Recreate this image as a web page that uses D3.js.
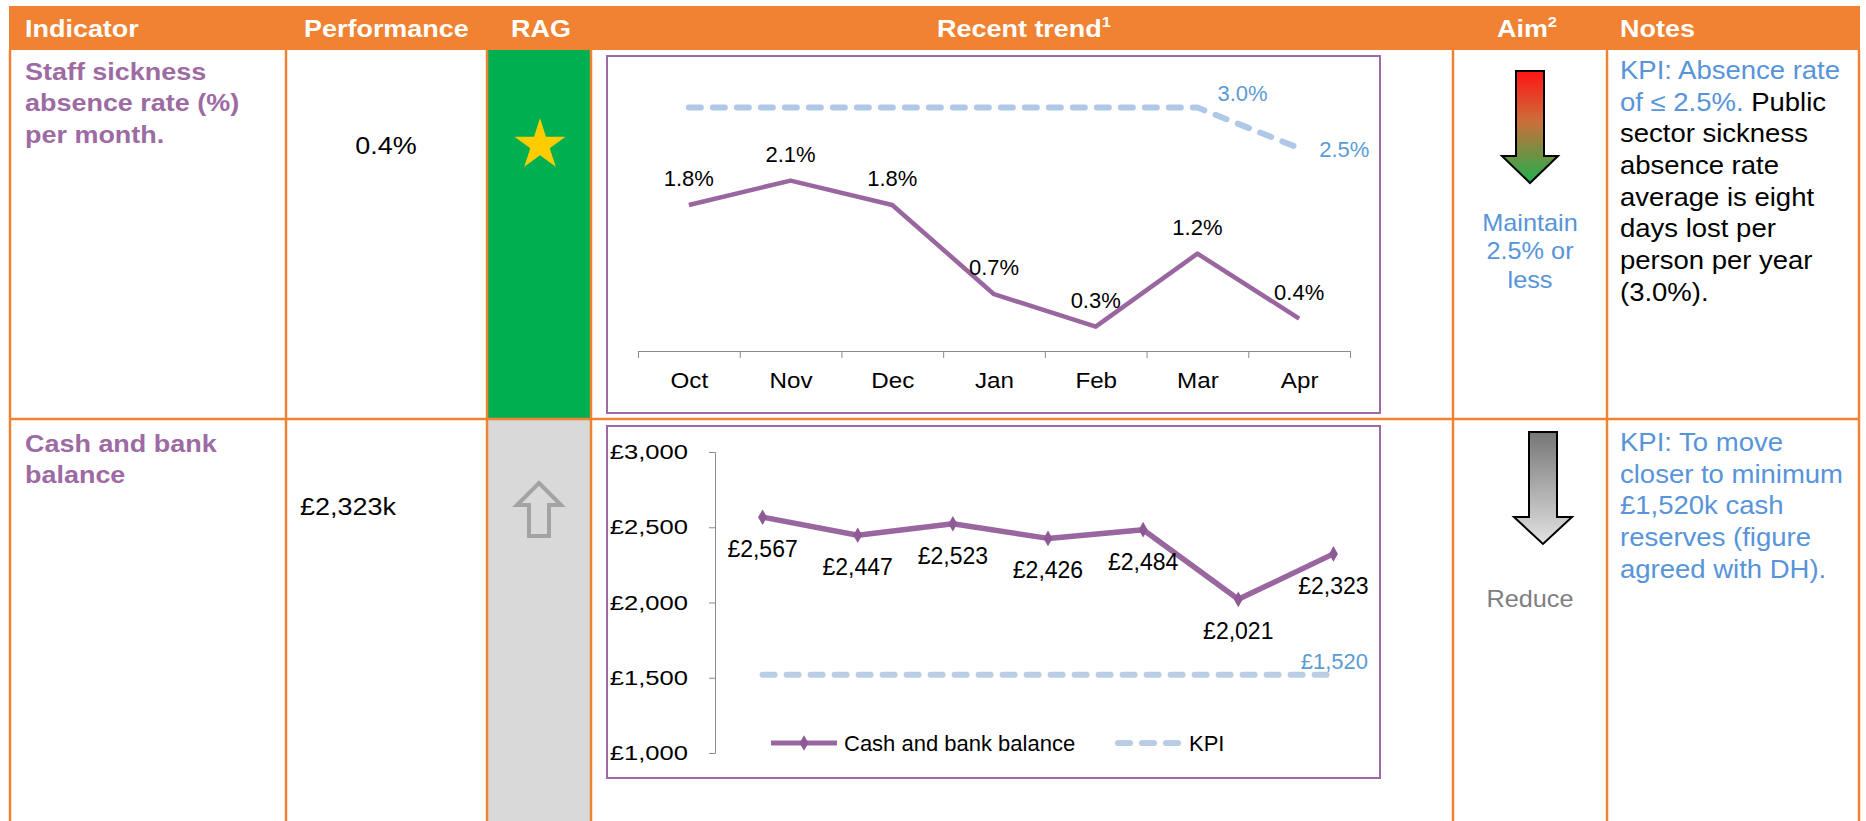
<!DOCTYPE html>
<html>
<head>
<meta charset="utf-8">
<script src="https://cdn.jsdelivr.net/npm/d3@7"></script>
<style>
  html, body { margin: 0; padding: 0; background: #fff; }
  svg { display: block; font-family: "Liberation Sans", Arial, sans-serif; }
</style>
</head>
<body>
<div id="chart"></div>
<script>
// ---- data ----
const months = ['Oct', 'Nov', 'Dec', 'Jan', 'Feb', 'Mar', 'Apr'];
const sicknessRate = [1.8, 2.1, 1.8, 0.7, 0.3, 1.2, 0.4];
const sicknessTarget = [3.0, 3.0, 3.0, 3.0, 3.0, 3.0, 2.5];
const cashBalance = [2567, 2447, 2523, 2426, 2484, 2021, 2323];
const cashKpi = [1520, 1520, 1520, 1520, 1520, 1520, 1520];
const cashTicks = [1000, 1500, 2000, 2500, 3000];

const headers = ['Indicator', 'Performance', 'RAG', 'Recent trend', 'Aim', 'Notes'];
const indicatorLines = [['Staff sickness', 'absence rate (%)', 'per month.'], ['Cash and bank', 'balance']];
const performance = ['0.4%', '£2,323k'];
const aimLines = [['Maintain', '2.5% or', 'less'], ['Reduce']];

const W = 1866, H = 821;
const SX = 1.1; // the source table is stretched horizontally
const ORANGE = '#F08232';
const PURPLE = '#9966A0';
const PURPLE_TEXT = '#9D6AA3';
const BLUE = '#5794DA';
const DASH = '#AFC8E8';

const svg = d3.select('#chart').append('svg')
	.attr('width', W)
	.attr('height', H);

const defs = svg.append('defs');

function gradient(id, stops) {
	const g = defs.append('linearGradient').attr('id', id)
		.attr('x1', 0).attr('y1', 0).attr('x2', 0).attr('y2', 1);
	stops.forEach(([o, c]) => g.append('stop').attr('offset', o).attr('stop-color', c));
}
gradient('aimGood', [[0, '#FF1414'], [0.45, '#CC6E3A'], [1, '#1FB04C']]);
gradient('aimGrey', [[0, '#767676'], [1, '#E2E2E2']]);

/* text block drawn with the horizontal stretch of the source */
function label(g, x, y, lines, opt) {
	const t = g.append('text')
		.attr('transform', `translate(${x},${y}) scale(${opt.sx || SX},1)`)
		.attr('font-size', opt.size)
		.attr('font-weight', opt.bold ? 'bold' : null)
		.attr('text-anchor', opt.anchor || 'start')
		.attr('fill', opt.color || '#000');
	lines.forEach((line, i) => {
		const segs = Array.isArray(line) ? line : [[line]];
		segs.forEach((s, j) => {
			const ts = t.append('tspan').text(s[0]);
			if (j === 0) ts.attr('x', 0).attr('dy', i === 0 ? 0 : opt.lh);
			if (s[1]) ts.attr('fill', s[1]);
		});
	});
	return t;
}

// ---- table frame ----
const colX = [10, 286, 487, 591, 1453, 1607, 1859];
const headTop = 6, headBottom = 50, rowSplit = 419;

svg.append('rect')
	.attr('x', colX[0] - 1).attr('y', headTop)
	.attr('width', colX[6] - colX[0] + 2).attr('height', headBottom - headTop)
	.attr('fill', ORANGE);

svg.append('rect')
	.attr('x', colX[2]).attr('y', headBottom)
	.attr('width', colX[3] - colX[2]).attr('height', rowSplit - headBottom)
	.attr('fill', '#00B050');
svg.append('rect')
	.attr('x', colX[2]).attr('y', rowSplit)
	.attr('width', colX[3] - colX[2]).attr('height', H - rowSplit)
	.attr('fill', '#D9D9D9');

const frame = svg.append('g').attr('stroke', ORANGE).attr('stroke-width', 2.5);
colX.forEach(x => frame.append('line').attr('x1', x).attr('x2', x).attr('y1', headBottom).attr('y2', H));
frame.append('line').attr('x1', colX[0]).attr('x2', colX[6]).attr('y1', rowSplit).attr('y2', rowSplit);

// header
const head = svg.append('g');
const headPos = [[25, 'start'], [304, 'start'], [511, 'start'], [1024, 'middle'], [1527, 'middle'], [1620, 'start']];
headers.forEach((h, i) => {
	const t = label(head, headPos[i][0], 37, [h], {size: 24.5, bold: true, color: '#fff', anchor: headPos[i][1]});
	if (i === 3 || i === 4) {
		t.append('tspan').text(i === 3 ? '1' : '2')
			.attr('font-size', 15).attr('dy', -10);
	}
});

// indicator + performance
label(svg, 25, 80, indicatorLines[0], {size: 24.5, bold: true, color: PURPLE_TEXT, lh: 31.5});
label(svg, 25, 452, indicatorLines[1], {size: 24.5, bold: true, color: PURPLE_TEXT, lh: 31.5});
label(svg, 386, 154, [performance[0]], {size: 24.5, anchor: 'middle'});
label(svg, 300, 515, [performance[1]], {size: 24.5});

// RAG icons
svg.append('path')
	.attr('d', d3.symbol(d3.symbolStar, 806)())
	.attr('transform', 'translate(540,145)')
	.attr('fill', '#FFCC00');

const upX = 539, upTop = 483;
svg.append('path')
	.attr('d', `M${upX},${upTop} L${upX + 22},${upTop + 22} L${upX + 10},${upTop + 22} L${upX + 10},${upTop + 53} L${upX - 10},${upTop + 53} L${upX - 10},${upTop + 22} L${upX - 22},${upTop + 22} Z`)
	.attr('fill', 'none')
	.attr('stroke', '#A3A3A3')
	.attr('stroke-width', 4);

// aim arrows
function downArrow(cx, top, headY, tip, sh, hh, fill) {
	svg.append('path')
		.attr('d', `M${cx - sh},${top} L${cx + sh},${top} L${cx + sh},${headY} L${cx + hh},${headY} L${cx},${tip} L${cx - hh},${headY} L${cx - sh},${headY} Z`)
		.attr('fill', fill)
		.attr('stroke', '#000')
		.attr('stroke-width', 2)
		.attr('stroke-linejoin', 'miter');
}
downArrow(1530, 71, 156, 183, 14, 28, 'url(#aimGood)');
downArrow(1543, 432, 517, 544, 14, 29, 'url(#aimGrey)');

label(svg, 1530, 231, aimLines[0], {size: 23, anchor: 'middle', color: BLUE, lh: 28.5});
label(svg, 1530, 607, aimLines[1], {size: 23, anchor: 'middle', color: '#7F7F7F'});

// notes
label(svg, 1620, 79, [
	[['KPI: Absence rate', BLUE]],
	[['of ≤ 2.5%.', BLUE], [' Public']],
	'sector sickness',
	'absence rate',
	'average is eight',
	'days lost per',
	'person per year',
	'(3.0%).'
], {size: 25, lh: 31.7});
label(svg, 1620, 451, ['KPI: To move', 'closer to minimum', '£1,520k cash', 'reserves (figure', 'agreed with DH).'],
	{size: 25, lh: 31.7, color: BLUE});

// ---- chart 1 : sickness absence ----
const c1 = svg.append('g');
c1.append('rect')
	.attr('x', 607).attr('y', 56).attr('width', 773).attr('height', 357)
	.attr('fill', '#fff').attr('stroke', '#9E6AA5').attr('stroke-width', 2);

const x1 = d3.scalePoint().domain(months).range([638, 1350]).padding(0.5);
const y1 = d3.scaleLinear().domain([0, 3.5]).range([351, 67]);
const band1 = d3.scaleLinear().domain([0, months.length]).range([638, 1350]);

const ax1 = c1.append('g')
	.attr('transform', `translate(0,${y1(0)})`)
	.call(d3.axisBottom(band1).ticks(months.length).tickSize(7).tickFormat(''));
ax1.selectAll('path, line').attr('stroke', '#8C8C8C');

const lab1 = c1.append('g')
	.attr('transform', `translate(0,${y1(0)})`)
	.call(d3.axisBottom(x1).tickSize(0));
lab1.select('.domain').remove();
lab1.selectAll('text')
	.attr('y', 37).attr('dy', null)
	.attr('transform', 'scale(1.1,1)')
	.attr('font-size', 22)
	.attr('font-family', '"Liberation Sans", Arial, sans-serif')
	.attr('fill', '#000');

const line1 = d3.line().x((d, i) => x1(months[i])).y(d => y1(d));

c1.append('path')
	.attr('d', line1(sicknessTarget))
	.attr('fill', 'none')
	.attr('stroke', DASH)
	.attr('stroke-width', 6)
	.attr('stroke-dasharray', '12,12')
	.attr('stroke-linecap', 'round');

c1.append('path')
	.attr('d', line1(sicknessRate))
	.attr('fill', 'none')
	.attr('stroke', PURPLE)
	.attr('stroke-width', 4.5)
	.attr('stroke-linejoin', 'round');

c1.selectAll('.val1')
	.data(sicknessRate)
	.join('text')
	.attr('x', (d, i) => x1(months[i]))
	.attr('y', d => y1(d) - 19)
	.attr('text-anchor', 'middle')
	.attr('font-size', 22)
	.text(d => d3.format('.1f')(d) + '%');

c1.append('text')
	.attr('x', x1('Mar') + 20).attr('y', y1(sicknessTarget[5]) - 7)
	.attr('font-size', 22).attr('fill', '#5B9BD5')
	.text(d3.format('.1f')(sicknessTarget[5]) + '%');
c1.append('text')
	.attr('x', x1('Apr') + 20).attr('y', y1(sicknessTarget[6]) + 9)
	.attr('font-size', 22).attr('fill', '#5B9BD5')
	.text(d3.format('.1f')(sicknessTarget[6]) + '%');

// ---- chart 2 : cash and bank balance ----
const c2 = svg.append('g');
c2.append('rect')
	.attr('x', 607).attr('y', 426).attr('width', 773).attr('height', 352)
	.attr('fill', '#fff').attr('stroke', '#9E6AA5').attr('stroke-width', 2);

const x2 = d3.scalePoint().domain(months).range([715, 1381]).padding(0.5);
const y2 = d3.scaleLinear().domain([1000, 3000]).range([753, 452]);
const pound = d => '£' + d3.format(',')(d);

const ax2 = c2.append('g')
	.attr('transform', 'translate(715,0)')
	.call(d3.axisLeft(y2).tickValues(cashTicks).tickSize(6).tickFormat(pound));
ax2.selectAll('path, line').attr('stroke', '#8C8C8C');
ax2.selectAll('text')
	.attr('x', -27 / 1.22)
	.attr('transform', 'scale(1.22,1)')
	.attr('font-size', 21)
	.attr('font-family', '"Liberation Sans", Arial, sans-serif')
	.attr('fill', '#000');

const line2 = d3.line().x((d, i) => x2(months[i])).y(d => y2(d));

c2.append('path')
	.attr('d', line2(cashKpi))
	.attr('fill', 'none')
	.attr('stroke', '#B9CDE6')
	.attr('stroke-width', 6)
	.attr('stroke-dasharray', '12,12')
	.attr('stroke-linecap', 'round');

c2.append('path')
	.attr('d', line2(cashBalance))
	.attr('fill', 'none')
	.attr('stroke', PURPLE)
	.attr('stroke-width', 5.5)
	.attr('stroke-linejoin', 'round');

const diamond = d3.symbol(d3.symbolDiamond, 70)();
c2.selectAll('.mk')
	.data(cashBalance)
	.join('path')
	.attr('d', diamond)
	.attr('transform', (d, i) => `translate(${x2(months[i])},${y2(d)})`)
	.attr('fill', '#8E5A95');

c2.selectAll('.val2')
	.data(cashBalance)
	.join('text')
	.attr('x', (d, i) => x2(months[i]))
	.attr('y', d => y2(d) + 40)
	.attr('text-anchor', 'middle')
	.attr('font-size', 23)
	.text(pound);

c2.append('text')
	.attr('x', 1368).attr('y', y2(cashKpi[6]) - 6)
	.attr('text-anchor', 'end')
	.attr('font-size', 22).attr('fill', '#5B9BD5')
	.text(pound(cashKpi[6]));

// legend
const lg = c2.append('g').attr('transform', 'translate(0,743)');
lg.append('line').attr('x1', 771).attr('x2', 837)
	.attr('stroke', PURPLE).attr('stroke-width', 5);
lg.append('path').attr('d', diamond).attr('transform', 'translate(804,0)').attr('fill', '#8E5A95');
lg.append('text').attr('x', 844).attr('y', 8).attr('font-size', 22).text('Cash and bank balance');
lg.append('line').attr('x1', 1118).attr('x2', 1178)
	.attr('stroke', '#B9CDE6').attr('stroke-width', 6)
	.attr('stroke-dasharray', '12,12').attr('stroke-linecap', 'round');
lg.append('text').attr('x', 1189).attr('y', 8).attr('font-size', 22).text('KPI');
</script>
</body>
</html>
